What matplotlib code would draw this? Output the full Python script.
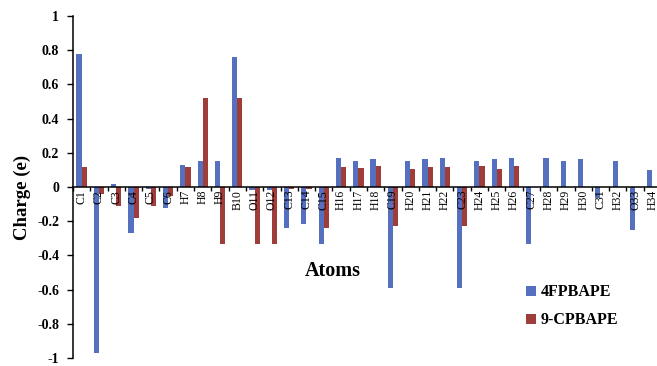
import numpy as np
import matplotlib
matplotlib.use('Agg')
import matplotlib.pyplot as plt
from matplotlib.ticker import FixedLocator

# atom labels along the x axis
atoms = ['C1', 'C2', 'C3', 'C4', 'C5', 'C6', 'H7', 'H8', 'H9', 'B10',
         'O11', 'O12', 'C13', 'C14', 'C15', 'H16', 'H17', 'H18', 'C19', 'H20',
         'H21', 'H22', 'C23', 'H24', 'H25', 'H26', 'C27', 'H28', 'H29', 'H30',
         'C31', 'H32', 'O33', 'H34']

# charges
fpbape = [0.775, -0.97, 0.02, -0.27, -0.01, -0.125, 0.13, 0.152, 0.152, 0.762,
          -0.015, -0.02, -0.237, -0.218, -0.335, 0.171, 0.152, 0.166, -0.59, 0.152,
          0.162, 0.171, -0.59, 0.152, 0.162, 0.171, -0.335, 0.171, 0.152, 0.166,
          -0.065, 0.152, -0.25, 0.1]
cpbape = [0.116, -0.04, -0.11, -0.18, -0.11, -0.055, 0.116, 0.518, -0.335, 0.518,
          -0.335, -0.335, -0.01, -0.01, -0.237, 0.117, 0.11, 0.125, -0.227, 0.107,
          0.119, 0.119, -0.227, 0.121, 0.107, 0.121, 0.0, 0.0, 0.0, 0.0,
          0.0, 0.0, 0.0, 0.0]

yticks = [-1, -0.8, -0.6, -0.4, -0.2, 0, 0.2, 0.4, 0.6, 0.8, 1]
yticklabels = ['-1', '-0.8', '-0.6', '-0.4', '-0.2', '0', '0.2', '0.4', '0.6', '0.8', '1']

BLUE = '#5470BF'
RED = '#9E3D3A'
SERIF = ['Liberation Serif', 'DejaVu Serif']

fig = plt.figure(figsize=(6.57, 3.66), dpi=100)
ax = fig.add_axes([73/657, 1 - 358/366, 588/657, 342/366])

x = np.arange(len(atoms))
w = 0.3
ax.bar(x - w/2, fpbape, w, color=BLUE, label='4FPBAPE')
ax.bar(x + w/2, cpbape, w, color=RED, label='9-CPBAPE')

ax.set_xlim(-0.5, len(atoms) - 0.5)
ax.set_ylim(-1, 1)

# spines: y axis on the left, x axis through zero
ax.spines['top'].set_visible(False)
ax.spines['right'].set_visible(False)
ax.spines['bottom'].set_position(('data', 0))
ax.spines['left'].set_linewidth(1.1)
ax.spines['bottom'].set_linewidth(1.1)

# boundary ticks as major, labels on minor ticks at the centres
ax.xaxis.set_major_locator(FixedLocator(np.arange(-0.5, len(atoms), 1.0)))
ax.xaxis.set_major_formatter(plt.NullFormatter())
ax.set_xticks(x, minor=True)
ax.set_xticklabels(atoms, minor=True, rotation=90, fontsize=8.5, family=SERIF)
ax.tick_params(axis='x', which='major', direction='out', length=3, width=1)
ax.tick_params(axis='x', which='minor', length=0, pad=2)

ax.set_yticks(yticks)
ax.set_yticklabels(yticklabels, fontsize=10, fontweight='bold', family=SERIF)
ax.tick_params(axis='y', direction='out', length=4, width=1, pad=6)

fig.text(22/657, 1 - 197/366, 'Charge (e)', rotation=90, ha='center', va='center',
         fontsize=13.5, fontweight='bold', family=SERIF)
fig.text(333/657, 1 - 271/366, 'Atoms', ha='center', va='center',
         fontsize=14.5, fontweight='bold', family=SERIF)

leg = fig.legend(loc='upper left', bbox_to_anchor=(512/657, 1 - 270/366),
                 frameon=False, handlelength=0.6, handleheight=0.6,
                 handletextpad=0.3, labelspacing=0.75,
                 prop={'family': SERIF, 'weight': 'bold', 'size': 11.5})

fig.savefig('out.png', dpi=100)
